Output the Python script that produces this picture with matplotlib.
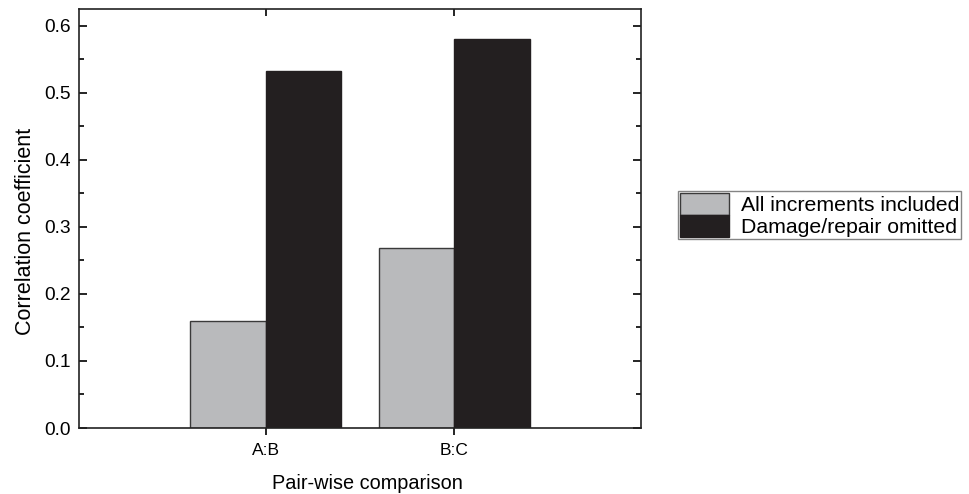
import numpy as np
import matplotlib.pyplot as plt
from matplotlib.ticker import MultipleLocator

plt.rcParams['font.family'] = ['Liberation Sans', 'DejaVu Sans']

pairs = ['A:B', 'B:C']
all_increments = [0.159, 0.268]
damage_omitted = [0.532, 0.580]

x = np.arange(1, len(pairs) + 1)
w = 0.4

fig = plt.figure(figsize=(9.7, 4.94), dpi=100)
ax = fig.add_axes([0.0814, 0.1336, 0.5794, 0.8482])

ax.bar(x - w / 2, all_increments, w, color='#b9babc', edgecolor='#3a3a3a',
       linewidth=1.0, label='All increments included')
ax.bar(x + w / 2, damage_omitted, w, color='#231f20', edgecolor='#231f20',
       linewidth=1.0, label='Damage/repair omitted')

ax.set_xlim(0.01, 2.99)
ax.set_ylim(0, 0.625)
ax.set_xticks(x)
ax.set_xticklabels(pairs, fontsize=12.5)
ax.yaxis.set_major_locator(MultipleLocator(0.1))
ax.yaxis.set_minor_locator(MultipleLocator(0.05))
ax.yaxis.set_major_formatter(plt.FormatStrFormatter('%.1f'))
ax.tick_params(axis='y', which='major', direction='in', length=6, width=1.2,
               right=True, labelsize=13.8, pad=6)
ax.tick_params(axis='y', which='minor', direction='in', length=3.5, width=1.2, right=True)
ax.tick_params(axis='x', which='major', direction='out', length=5, width=1.2, pad=6)

# top axis ticks point inward
top = ax.secondary_xaxis('top')
top.set_xticks(x)
top.set_xticklabels([])
top.tick_params(direction='in', length=5, width=1.2)
top.spines['top'].set_visible(False)

for s in ax.spines.values():
    s.set_linewidth(1.2)
    s.set_color('#222222')

ax.set_xlabel('Pair-wise comparison', fontsize=14.3)
ax.xaxis.set_label_coords(0.514, -0.11)
ax.set_ylabel('Correlation coefficient', fontsize=15.5)
ax.yaxis.set_label_coords(-0.077, 0.47)

leg = fig.legend(loc='center left', bbox_to_anchor=(678 / 970, (494 - 215) / 494),
                 fontsize=15.3, frameon=True, fancybox=False, edgecolor='#666666',
                 handlelength=2.3, handleheight=1.2, labelspacing=0.0,
                 handletextpad=0.55, borderpad=0.1, borderaxespad=0)
leg.get_frame().set_linewidth(1.0)

fig.savefig('out.png', dpi=100)
